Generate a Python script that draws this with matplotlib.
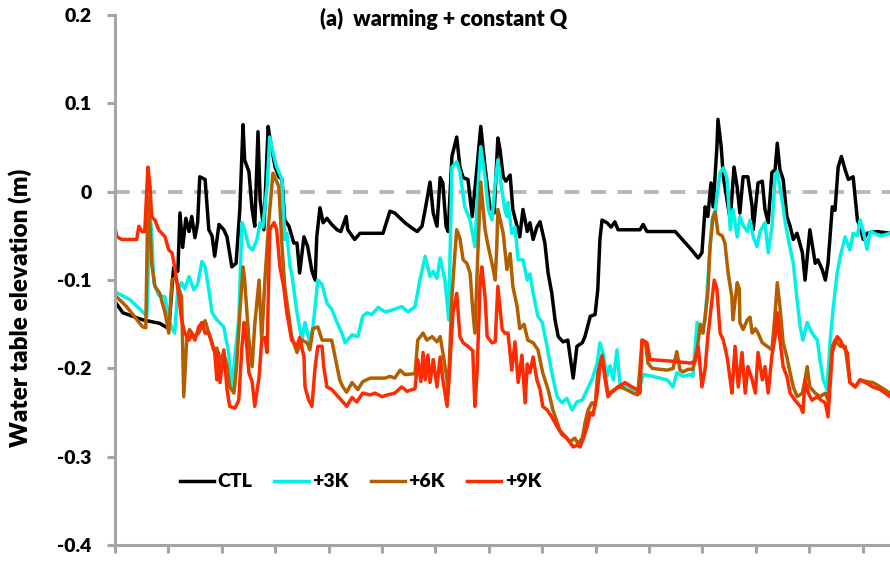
import matplotlib
matplotlib.use("Agg")
import matplotlib.pyplot as plt

plt.rcParams["font.family"] = ["Lato", "DejaVu Sans"]
plt.rcParams["font.weight"] = "bold"

# time in tick units (ticks at 0..14), water table elevation in m
ctl_t = [0.00, 0.15, 0.52, 0.84, 1.01, 1.10, 1.18, 1.22, 1.27, 1.33, 1.39, 1.44, 1.50, 1.55,
         1.59, 1.69, 1.76, 1.82, 1.87, 1.95, 2.04, 2.10, 2.19, 2.27, 2.34, 2.40, 2.43, 2.51,
         2.57, 2.62, 2.68, 2.72, 2.79, 2.87, 2.90, 3.00, 3.07, 3.13, 3.18, 3.26, 3.35, 3.41,
         3.46, 3.54, 3.61, 3.69, 3.75, 3.78, 3.84, 3.90, 3.97, 4.06, 4.16, 4.23, 4.33, 4.36,
         4.49, 4.59, 5.02, 5.15, 5.24, 5.43, 5.56, 5.66, 5.75, 5.81, 5.90, 5.96, 6.03, 6.09,
         6.14, 6.20, 6.24, 6.31, 6.40, 6.46, 6.52, 6.61, 6.69, 6.78, 6.85, 6.93, 7.02, 7.10,
         7.17, 7.21, 7.27, 7.32, 7.40, 7.45, 7.53, 7.58, 7.64, 7.72, 7.77, 7.83, 7.90, 7.96,
         8.05, 8.11, 8.18, 8.24, 8.30, 8.39, 8.48, 8.58, 8.65, 8.75, 8.80, 8.90, 8.99, 9.04,
         9.08, 9.12, 9.21, 9.29, 9.36, 9.42, 9.83, 9.89, 9.96, 10.49, 10.77, 10.92, 10.99,
         11.05, 11.10, 11.16, 11.20, 11.27, 11.29, 11.35, 11.39, 11.46, 11.52, 11.59, 11.65,
         11.70, 11.76, 11.85, 11.93, 11.95, 12.04, 12.12, 12.17, 12.23, 12.30, 12.36, 12.40,
         12.45, 12.51, 12.58, 12.64, 12.70, 12.77, 12.87, 12.92, 13.01, 13.11, 13.16, 13.24,
         13.30, 13.35, 13.43, 13.48, 13.54, 13.60, 13.67, 13.73, 13.82, 13.90, 13.95, 14.01,
         14.08, 14.27, 14.51]
ctl_v = [-0.124, -0.137, -0.145, -0.149, -0.155, -0.086, -0.090, -0.024, -0.063, -0.030,
         -0.045, -0.028, -0.052, -0.035, 0.017, 0.014, -0.043, -0.050, -0.073, -0.037, -0.043,
         -0.051, -0.085, -0.081, -0.020, 0.076, 0.036, 0.023, -0.020, -0.039, 0.068, -0.009,
         -0.043, 0.074, 0.062, 0.028, 0.017, 0.014, -0.032, -0.039, -0.058, -0.058, -0.092,
         -0.051, -0.062, -0.090, -0.100, -0.051, -0.018, -0.035, -0.030, -0.037, -0.043,
         -0.045, -0.028, -0.043, -0.054, -0.047, -0.047, -0.022, -0.024, -0.035, -0.041,
         -0.045, -0.039, -0.020, 0.011, -0.024, -0.039, 0.016, 0.010, -0.039, -0.045, 0.040,
         0.062, 0.028, 0.016, 0.014, -0.028, 0.028, 0.074, 0.028, -0.017, -0.024, 0.061, 0.048,
         0.017, 0.012, 0.019, -0.020, -0.039, -0.051, -0.020, -0.045, -0.035, -0.054, -0.040,
         -0.034, -0.058, -0.092, -0.115, -0.145, -0.164, -0.170, -0.168, -0.211, -0.175,
         -0.171, -0.164, -0.141, -0.139, -0.111, -0.054, -0.032, -0.035, -0.040, -0.034,
         -0.043, -0.043, -0.037, -0.045, -0.045, -0.064, -0.075, -0.069, -0.017, -0.028, 0.010,
         -0.017, 0.051, 0.082, 0.051, 0.017, -0.009, -0.032, 0.028, 0.005, -0.024, 0.017, 0.017,
         -0.017, -0.043, 0.010, 0.012, -0.020, -0.035, 0.022, 0.025, 0.055, 0.025, 0.014,
         -0.028, -0.039, -0.054, -0.047, -0.069, -0.100, -0.043, -0.081, -0.077, -0.088,
         -0.100, -0.081, -0.017, -0.021, 0.028, 0.040, 0.025, 0.014, 0.017, -0.032, -0.040,
         -0.054, -0.047, -0.045, -0.047]

k3_t = [0.00, 0.28, 0.54, 0.60, 0.66, 0.69, 0.73, 0.82, 0.94, 0.99, 1.07, 1.12, 1.18, 1.25,
        1.31, 1.39, 1.48, 1.55, 1.63, 1.69, 1.76, 1.82, 1.91, 2.04, 2.13, 2.19, 2.25, 2.32,
        2.38, 2.43, 2.51, 2.58, 2.66, 2.72, 2.77, 2.85, 2.90, 2.98, 3.03, 3.13, 3.18, 3.22,
        3.28, 3.31, 3.41, 3.50, 3.56, 3.65, 3.71, 3.80, 3.88, 3.97, 4.06, 4.16, 4.25, 4.31,
        4.44, 4.55, 4.64, 4.72, 4.81, 4.93, 5.06, 5.19, 5.37, 5.49, 5.62, 5.71, 5.81, 5.90,
        5.96, 6.03, 6.09, 6.18, 6.25, 6.31, 6.40, 6.46, 6.55, 6.65, 6.74, 6.80, 6.85, 6.93,
        6.99, 7.06, 7.12, 7.17, 7.25, 7.30, 7.34, 7.36, 7.43, 7.49, 7.55, 7.64, 7.72, 7.77,
        7.83, 7.92, 8.00, 8.09, 8.18, 8.28, 8.37, 8.46, 8.56, 8.65, 8.75, 8.84, 8.93, 9.03,
        9.08, 9.14, 9.21, 9.27, 9.33, 9.40, 9.46, 9.59, 9.70, 9.79, 9.89, 10.07, 10.34, 10.45,
        10.52, 10.64, 10.77, 10.82, 10.86, 10.90, 10.99, 11.05, 11.10, 11.18, 11.24, 11.33,
        11.39, 11.46, 11.52, 11.57, 11.65, 11.70, 11.76, 11.84, 11.89, 11.95, 12.02, 12.08,
        12.17, 12.23, 12.30, 12.36, 12.40, 12.49, 12.55, 12.64, 12.70, 12.77, 12.83, 12.88,
        12.96, 13.05, 13.15, 13.20, 13.26, 13.33, 13.39, 13.45, 13.52, 13.58, 13.67, 13.76,
        13.82, 13.90, 13.95, 14.01, 14.08, 14.14, 14.33, 14.51]
k3_v = [-0.113, -0.122, -0.137, -0.141, -0.028, -0.045, -0.103, -0.117, -0.119, -0.140,
        -0.155, -0.160, -0.111, -0.103, -0.110, -0.096, -0.111, -0.105, -0.079, -0.085,
        -0.111, -0.137, -0.145, -0.153, -0.182, -0.224, -0.185, -0.145, -0.035, -0.043,
        -0.062, -0.066, -0.054, -0.035, -0.040, 0.006, 0.062, 0.040, 0.028, 0.014, -0.054,
        -0.047, -0.085, -0.092, -0.137, -0.168, -0.148, -0.171, -0.153, -0.100, -0.105,
        -0.126, -0.133, -0.148, -0.160, -0.171, -0.162, -0.164, -0.141, -0.137, -0.139,
        -0.131, -0.136, -0.134, -0.130, -0.136, -0.130, -0.100, -0.073, -0.096, -0.090,
        -0.098, -0.075, -0.100, -0.145, 0.028, 0.034, 0.022, -0.017, -0.032, -0.062, 0.006,
        0.051, 0.017, -0.020, -0.032, 0.010, 0.036, 0.000, -0.020, -0.028, -0.012, -0.047,
        -0.040, -0.077, -0.077, -0.100, -0.093, -0.115, -0.141, -0.148, -0.175, -0.205,
        -0.232, -0.239, -0.234, -0.247, -0.238, -0.236, -0.224, -0.213, -0.194, -0.171,
        -0.183, -0.209, -0.197, -0.213, -0.179, -0.221, -0.219, -0.224, -0.228, -0.207,
        -0.209, -0.213, -0.221, -0.205, -0.209, -0.207, -0.209, -0.179, -0.148, -0.160,
        -0.145, -0.100, -0.032, -0.020, 0.022, 0.027, 0.015, -0.043, -0.020, -0.051, -0.028,
        -0.038, -0.045, -0.032, -0.051, -0.062, -0.045, -0.035, -0.069, -0.040, 0.017, 0.023,
        -0.009, -0.035, -0.064, -0.081, -0.122, -0.153, -0.168, -0.148, -0.160, -0.168,
        -0.190, -0.213, -0.224, -0.168, -0.130, -0.092, -0.073, -0.051, -0.066, -0.047,
        -0.050, -0.032, -0.045, -0.065, -0.045, -0.050, -0.047]

k6_t = [0.00, 0.22, 0.52, 0.58, 0.62, 0.66, 0.69, 0.75, 0.84, 0.94, 1.01, 1.07, 1.14, 1.20,
        1.25, 1.29, 1.35, 1.40, 1.48, 1.57, 1.63, 1.69, 1.76, 1.85, 1.91, 1.97, 2.04, 2.10,
        2.15, 2.23, 2.28, 2.34, 2.40, 2.43, 2.51, 2.57, 2.62, 2.70, 2.75, 2.81, 2.88, 2.96,
        3.07, 3.13, 3.18, 3.31, 3.41, 3.50, 3.60, 3.65, 3.71, 3.80, 3.88, 3.97, 4.06, 4.16,
        4.21, 4.27, 4.34, 4.44, 4.55, 4.64, 4.78, 5.06, 5.15, 5.24, 5.34, 5.43, 5.62, 5.67,
        5.77, 5.84, 5.94, 6.03, 6.09, 6.14, 6.22, 6.24, 6.31, 6.37, 6.40, 6.46, 6.52, 6.59,
        6.65, 6.70, 6.74, 6.80, 6.85, 6.93, 6.99, 7.06, 7.12, 7.15, 7.17, 7.27, 7.34, 7.40,
        7.45, 7.53, 7.58, 7.66, 7.73, 7.83, 7.92, 8.01, 8.11, 8.20, 8.33, 8.43, 8.52, 8.61,
        8.67, 8.75, 8.80, 8.86, 8.93, 8.99, 9.04, 9.12, 9.18, 9.23, 9.33, 9.42, 9.51, 9.61,
        9.70, 9.79, 9.87, 9.93, 9.98, 10.06, 10.34, 10.45, 10.52, 10.58, 10.64, 10.73, 10.82,
        10.90, 10.96, 11.01, 11.05, 11.10, 11.14, 11.20, 11.24, 11.29, 11.37, 11.42, 11.48,
        11.55, 11.57, 11.65, 11.69, 11.70, 11.76, 11.84, 11.89, 11.93, 11.99, 12.04, 12.12,
        12.21, 12.30, 12.36, 12.40, 12.45, 12.51, 12.58, 12.64, 12.70, 12.77, 12.87, 12.92,
        12.96, 13.01, 13.11, 13.20, 13.30, 13.35, 13.43, 13.48, 13.58, 13.67, 13.76, 13.86,
        13.95, 14.08, 14.19, 14.33, 14.51]
k6_v = [-0.117, -0.130, -0.153, -0.154, -0.005, -0.040, -0.081, -0.107, -0.115, -0.137,
        -0.160, -0.100, -0.097, -0.110, -0.119, -0.232, -0.164, -0.156, -0.164, -0.160,
        -0.153, -0.146, -0.160, -0.179, -0.177, -0.190, -0.183, -0.197, -0.221, -0.228,
        -0.198, -0.137, -0.085, -0.100, -0.168, -0.198, -0.150, -0.100, -0.168, -0.100,
        -0.035, 0.021, 0.006, -0.062, -0.107, -0.164, -0.182, -0.168, -0.171, -0.179, -0.155,
        -0.153, -0.168, -0.168, -0.168, -0.198, -0.213, -0.221, -0.227, -0.216, -0.224,
        -0.215, -0.211, -0.211, -0.209, -0.211, -0.202, -0.207, -0.206, -0.168, -0.160,
        -0.168, -0.164, -0.170, -0.164, -0.182, -0.213, -0.228, -0.119, -0.066, -0.043,
        -0.053, -0.077, -0.081, -0.092, -0.134, -0.160, -0.062, 0.011, -0.043, -0.062, -0.081,
        -0.100, -0.062, -0.020, -0.047, -0.088, -0.070, -0.107, -0.130, -0.155, -0.150,
        -0.168, -0.171, -0.179, -0.205, -0.224, -0.247, -0.270, -0.277, -0.283, -0.279,
        -0.285, -0.279, -0.262, -0.247, -0.239, -0.242, -0.205, -0.185, -0.209, -0.228,
        -0.226, -0.221, -0.222, -0.225, -0.228, -0.230, -0.168, -0.170, -0.194, -0.200,
        -0.202, -0.200, -0.181, -0.202, -0.204, -0.201, -0.201, -0.179, -0.150, -0.160,
        -0.141, -0.115, -0.062, -0.028, -0.023, -0.047, -0.050, -0.058, -0.092, -0.119,
        -0.145, -0.103, -0.110, -0.148, -0.156, -0.145, -0.142, -0.160, -0.155, -0.160,
        -0.171, -0.175, -0.179, -0.137, -0.103, -0.130, -0.171, -0.187, -0.205, -0.221,
        -0.232, -0.228, -0.213, -0.198, -0.221, -0.228, -0.232, -0.228, -0.236, -0.175,
        -0.168, -0.175, -0.175, -0.216, -0.221, -0.213, -0.215, -0.216, -0.221, -0.228]

k9_t = [0.00, 0.04, 0.13, 0.41, 0.45, 0.51, 0.56, 0.62, 0.66, 0.69, 0.75, 0.82, 0.88, 0.94,
        1.01, 1.07, 1.12, 1.20, 1.25, 1.31, 1.39, 1.44, 1.50, 1.57, 1.63, 1.69, 1.76, 1.82,
        1.87, 1.91, 1.93, 1.97, 2.04, 2.10, 2.15, 2.25, 2.32, 2.38, 2.42, 2.45, 2.51, 2.57,
        2.62, 2.70, 2.75, 2.81, 2.85, 2.90, 2.98, 3.03, 3.09, 3.16, 3.22, 3.31, 3.41, 3.46,
        3.54, 3.56, 3.63, 3.69, 3.75, 3.80, 3.88, 3.91, 3.97, 4.06, 4.18, 4.27, 4.34, 4.44,
        4.53, 4.64, 4.78, 4.87, 5.00, 5.11, 5.24, 5.37, 5.47, 5.56, 5.62, 5.67, 5.73, 5.77,
        5.81, 5.86, 5.90, 5.96, 6.03, 6.09, 6.14, 6.22, 6.27, 6.33, 6.40, 6.46, 6.52, 6.61,
        6.70, 6.74, 6.78, 6.84, 6.87, 6.93, 6.97, 7.06, 7.12, 7.17, 7.25, 7.30, 7.36, 7.43,
        7.49, 7.55, 7.62, 7.68, 7.72, 7.77, 7.83, 7.90, 7.96, 8.01, 8.09, 8.18, 8.28, 8.37,
        8.46, 8.52, 8.58, 8.65, 8.71, 8.76, 8.84, 8.90, 8.95, 9.03, 9.08, 9.12, 9.18, 9.23,
        9.33, 9.42, 9.55, 9.68, 9.78, 9.83, 9.87, 9.96, 10.02, 10.45, 10.77, 10.86, 10.92,
        10.99, 11.05, 11.10, 11.18, 11.22, 11.27, 11.33, 11.39, 11.46, 11.52, 11.55, 11.61,
        11.67, 11.74, 11.80, 11.85, 11.93, 11.99, 12.04, 12.12, 12.17, 12.23, 12.30, 12.36,
        12.40, 12.45, 12.51, 12.58, 12.64, 12.73, 12.83, 12.88, 12.92, 12.98, 13.05, 13.15,
        13.22, 13.30, 13.35, 13.43, 13.52, 13.58, 13.63, 13.71, 13.76, 13.86, 13.95, 14.08,
        14.19, 14.33, 14.51]
k9_v = [-0.040, -0.051, -0.054, -0.054, -0.039, -0.045, -0.045, 0.028, 0.006, -0.028,
        -0.032, -0.043, -0.047, -0.051, -0.066, -0.069, -0.085, -0.119, -0.145, -0.160,
        -0.168, -0.160, -0.168, -0.153, -0.148, -0.160, -0.160, -0.171, -0.182, -0.213,
        -0.182, -0.216, -0.179, -0.224, -0.243, -0.245, -0.236, -0.175, -0.148, -0.160,
        -0.205, -0.215, -0.243, -0.210, -0.168, -0.165, -0.182, -0.043, -0.035, -0.043,
        -0.085, -0.107, -0.137, -0.168, -0.175, -0.165, -0.187, -0.221, -0.236, -0.243,
        -0.198, -0.175, -0.175, -0.198, -0.221, -0.224, -0.232, -0.238, -0.243, -0.233,
        -0.238, -0.228, -0.230, -0.228, -0.232, -0.230, -0.228, -0.221, -0.226, -0.224,
        -0.223, -0.190, -0.215, -0.182, -0.213, -0.185, -0.216, -0.190, -0.221, -0.187,
        -0.213, -0.243, -0.198, -0.137, -0.115, -0.164, -0.171, -0.175, -0.180, -0.243,
        -0.205, -0.100, -0.085, -0.119, -0.164, -0.171, -0.170, -0.107, -0.156, -0.160,
        -0.160, -0.202, -0.170, -0.216, -0.185, -0.239, -0.195, -0.205, -0.187, -0.213,
        -0.224, -0.243, -0.247, -0.255, -0.266, -0.275, -0.279, -0.284, -0.289, -0.287,
        -0.289, -0.281, -0.266, -0.250, -0.253, -0.228, -0.198, -0.187, -0.213, -0.232,
        -0.225, -0.221, -0.216, -0.221, -0.224, -0.228, -0.168, -0.171, -0.190, -0.192,
        -0.194, -0.192, -0.175, -0.221, -0.200, -0.164, -0.122, -0.100, -0.110, -0.160,
        -0.168, -0.187, -0.213, -0.228, -0.175, -0.221, -0.182, -0.228, -0.198, -0.213,
        -0.228, -0.182, -0.213, -0.198, -0.228, -0.185, -0.164, -0.137, -0.168, -0.198,
        -0.209, -0.228, -0.236, -0.243, -0.250, -0.213, -0.228, -0.236, -0.232, -0.236,
        -0.239, -0.255, -0.182, -0.164, -0.168, -0.175, -0.182, -0.216, -0.221, -0.213,
        -0.217, -0.221, -0.224, -0.232]

labels = ["CTL", "+3K", "+6K", "+9K"]
colors = ["#000000", "#00f2e6", "#b35f00", "#ff2a00"]
yticks = [0.2, 0.1, 0.0, -0.1, -0.2, -0.3, -0.4]
ytick_labels = ["0.2", "0.1", "0", "-0.1", "-0.2", "-0.3", "-0.4"]

axis_gray = "#a5a5a5"

fig = plt.figure(figsize=(8.9, 5.63), dpi=100)
ax = fig.add_axes([0.129, 0.032, 0.871, 0.941])

ax.axhline(0, color="#b8b8b8", lw=2.8, dashes=(3.8, 3.0), zorder=1)

for lab, t, v, c in zip(labels, [ctl_t, k3_t, k6_t, k9_t], [ctl_v, k3_v, k6_v, k9_v], colors):
    ax.plot(t, v, color=c, lw=2.5, label=lab, zorder=2)

ax.set_xlim(0, 14.51)
ax.set_ylim(-0.4, 0.2)
ax.set_xticks(range(15))
ax.set_xticklabels([])
ax.set_yticks(yticks)
ax.set_yticklabels(ytick_labels)

for side in ["top", "right"]:
    ax.spines[side].set_visible(False)
for side in ["left", "bottom"]:
    ax.spines[side].set_color(axis_gray)
    ax.spines[side].set_linewidth(2.2)

ax.tick_params(axis="both", direction="out", color=axis_gray, width=2.2, length=5.8)
ax.tick_params(axis="y", labelsize=14, pad=11)
for lbl in ax.get_yticklabels():
    lbl.set_fontweight("heavy")

leg = ax.legend(loc="center left", bbox_to_anchor=(0.084, 0.119), ncol=4, frameon=False,
                handlelength=1.75, handletextpad=0.2, columnspacing=1.12, borderpad=0,
                borderaxespad=0, prop={"size": 14, "weight": "heavy"})

fig.text(0.499, 0.966, "(a)  warming + constant Q", ha="center", va="center",
         fontsize=15.5, fontweight="heavy")
fig.text(0.0225, 0.453, "Water table elevation (m)", rotation=90, ha="center", va="center",
         fontsize=17.5, fontweight="heavy")

fig.savefig("out.png", dpi=100)
